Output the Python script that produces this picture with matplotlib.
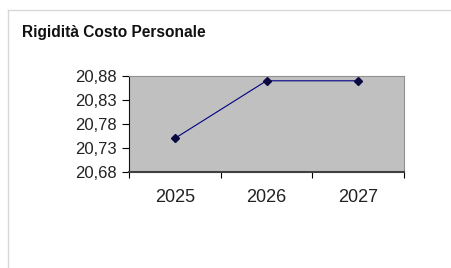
import matplotlib
matplotlib.use("Agg")
import matplotlib.pyplot as plt
from matplotlib.lines import Line2D
from matplotlib.ticker import FuncFormatter

# dati
anni = ["2025", "2026", "2027"]
valori = [20.75, 20.87, 20.87]
yticks = [20.68, 20.73, 20.78, 20.83, 20.88]

plt.rcParams['font.family'] = ['Liberation Sans', 'DejaVu Sans']

fig = plt.figure(figsize=(4.52, 2.68), dpi=100)
fig.patch.set_facecolor("white")

# cornice grigia del riquadro
fig.add_artist(Line2D([8/452, 1], [1 - 10/268, 1 - 10/268], color="#d8d8d8", lw=1))
fig.add_artist(Line2D([8/452, 8/452], [0, 1 - 10/268], color="#d8d8d8", lw=1))

fig.text(22/452, 1 - 32/268, "Rigidità Costo Personale", fontsize=11.2,
         fontweight="bold", va="center", ha="left", color="#111111")

ax = fig.add_axes([129/452, 1 - 172/268, 275/452, 96/268])
ax.set_facecolor("#c0c0c0")

x = list(range(len(anni)))
ax.plot(x, valori, color="#000080", lw=0.8, marker="D", markersize=4,
        markerfacecolor="#0a0a40", markeredgecolor="#0a0a40")

ax.set_xlim(-0.5, len(anni) - 0.5)
ax.set_ylim(yticks[0], yticks[-1])
ax.set_yticks(yticks)
ax.yaxis.set_major_formatter(FuncFormatter(lambda v, p: f"{v:.2f}".replace(".", ",")))

ax.set_xticks([i - 0.5 for i in range(len(anni) + 1)])
ax.set_xticklabels([])
ax.set_xticks(x, minor=True)
ax.set_xticklabels(anni, minor=True)
ax.tick_params(axis="x", which="minor", length=0, pad=12, labelsize=13, labelcolor="#222222")
ax.tick_params(axis="x", which="major", length=4, width=0.8, direction="out")
ax.tick_params(axis="y", length=5, width=0.8, direction="out", labelsize=12,
               labelcolor="#222222", pad=4)

for s in ["top", "right"]:
    ax.spines[s].set_color("#909090")
    ax.spines[s].set_linewidth(0.8)
ax.spines["left"].set_color("#111111")
ax.spines["left"].set_linewidth(0.8)
ax.spines["bottom"].set_color("#404040")
ax.spines["bottom"].set_linewidth(1.5)

fig.savefig("out.png", dpi=100)
